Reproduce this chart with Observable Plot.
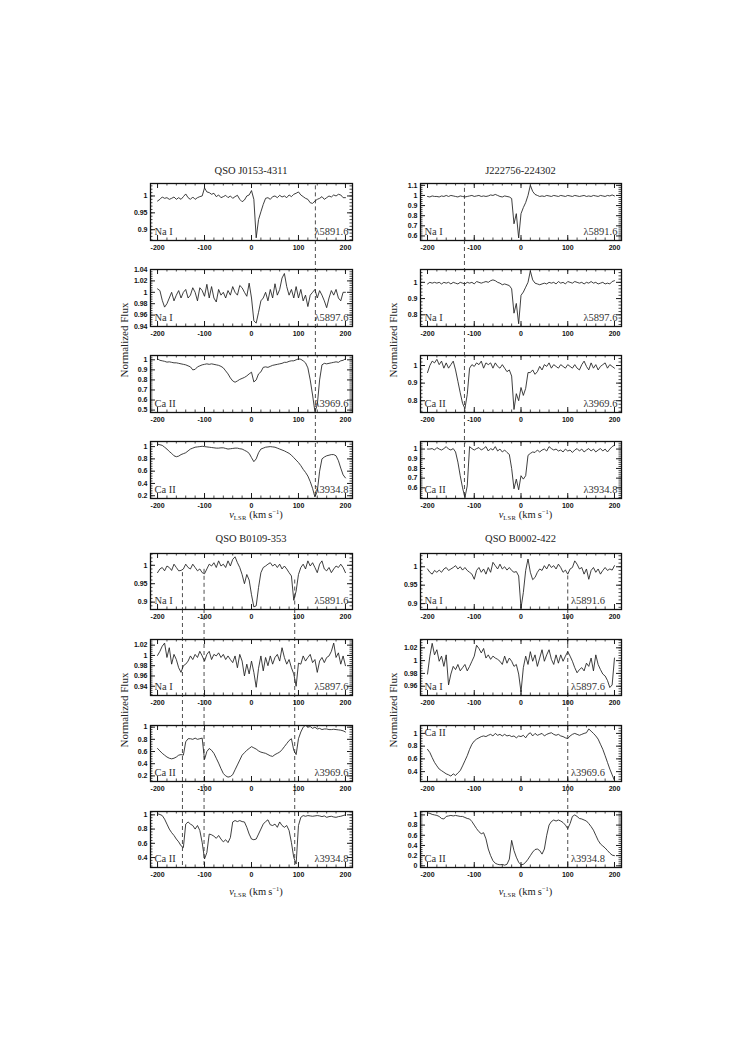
<!DOCTYPE html>
<html><head><meta charset="utf-8">
<script src="https://cdn.jsdelivr.net/npm/d3@7"></script>
<script src="https://cdn.jsdelivr.net/npm/@observablehq/plot@0.6"></script>
<style>
body{margin:0;background:#fff;}
#page{position:relative;width:747px;height:1056px;background:#fff;overflow:hidden;font-family:"Liberation Serif","DejaVu Serif",serif;color:#222;}
.abs{position:absolute;}
.ctr{transform:translate(-50%,-50%);white-space:nowrap;}
.title{font-size:10.5px;}
.xlab{font-size:10.5px;}
.xlab sub{font-size:6.5px;vertical-align:-2px;letter-spacing:0.3px;}
.xlab sup{font-size:6.5px;vertical-align:4px;}
.ylab{font-size:11px;transform:translate(-50%,-50%) rotate(-90deg);white-space:nowrap;}
svg{overflow:visible;}
</style>
</head><body><div id="page"></div>
<script>
// ---------------- DATA ----------------
const vel = [-200,-195,-190,-185,-180,-175,-170,-165,-160,-155,
 -150,-145,-140,-135,-130,-125,-120,-115,-110,-105,
 -100,-95,-90,-85,-80,-75,-70,-65,-60,-55,
 -50,-45,-40,-35,-30,-25,-20,-15,-10,-5,
 0,5,10,15,20,25,30,35,40,45,
 50,55,60,65,70,75,80,85,90,95,
 100,105,110,115,120,125,130,135,140,145,
 150,155,160,165,170,175,180,185,190,195,200];

const velTicks = [-200,-100,0,100,200];
const targets = ["QSO J0153-4311","J222756-224302","QSO B0109-353","QSO B0002-422"];
const ions = ["Na I","Na I","Ca II","Ca II"];
const transitions = ["λ5891.6","λ5897.6","λ3969.6","λ3934.8"];

// dashed component velocities (km/s) and the flux where each starts in the top panel
const compVel = [[136],[-121],[-147,-101,92],[100]];
const compStart = [[1.03],[1.07],[0.98,0.989,0.96],[0.975]];

// QSO J0153-4311
const j0153_na5891 = [0.985,0.990,0.997,0.993,0.995,0.990,0.993,0.997,0.990,0.995,
 0.990,0.998,1.006,0.995,0.990,0.997,0.990,0.995,0.998,1.000,
 1.024,1.012,1.010,1.005,1.008,0.998,1.003,0.995,0.998,1.002,
 0.995,1.000,0.993,0.998,1.002,0.990,0.983,0.988,1.000,1.003,
 1.016,0.990,0.876,0.930,0.953,0.975,0.993,0.995,0.990,0.998,
 1.000,0.995,1.002,0.997,1.000,0.995,1.003,0.998,1.005,1.008,
 1.012,1.003,0.998,0.993,0.990,0.980,0.978,0.985,0.990,0.993,
 0.998,0.990,0.995,1.000,0.997,1.003,1.000,1.005,1.003,0.995,0.995];
const j0153_na5897 = [1.006,1.003,0.986,0.974,0.980,0.990,1.000,0.985,0.995,1.003,
 0.990,1.000,1.005,0.990,0.995,1.008,1.000,0.985,1.008,1.003,
 0.993,1.014,0.990,1.010,0.990,0.983,1.005,0.995,1.000,0.990,
 1.003,0.995,1.010,1.000,0.995,1.012,1.008,1.000,0.993,1.016,
 0.990,0.950,0.946,0.965,0.985,0.990,1.000,0.985,1.005,0.990,
 1.015,0.995,1.005,1.025,1.033,1.010,0.995,1.005,0.990,1.010,
 0.990,1.005,0.985,0.995,0.975,0.995,1.000,1.005,0.990,1.003,
 0.995,0.985,0.973,0.990,1.003,0.995,1.005,0.990,0.985,1.000,1.000];
const j0153_ca3969 = [1.010,0.995,0.990,0.985,0.977,0.980,0.975,0.970,0.970,0.965,
 0.960,0.955,0.950,0.940,0.930,0.900,0.905,0.930,0.940,0.950,
 0.955,0.960,0.955,0.960,0.955,0.950,0.945,0.935,0.920,0.890,
 0.860,0.820,0.790,0.777,0.790,0.805,0.815,0.825,0.840,0.860,
 0.877,0.780,0.800,0.860,0.880,0.925,0.930,0.925,0.935,0.945,
 0.950,0.955,0.960,0.965,0.975,0.975,0.985,0.990,0.990,1.000,
 1.010,1.005,0.990,0.970,0.920,0.800,0.650,0.485,0.550,0.800,
 0.950,0.965,0.960,0.965,0.970,0.975,0.980,0.975,0.990,0.995,1.010];
const j0153_ca3934 = [1.040,1.030,1.020,0.990,0.960,0.920,0.890,0.850,0.835,0.845,
 0.870,0.885,0.900,0.930,0.960,0.975,0.990,0.995,1.000,1.005,
 1.000,0.995,0.990,0.985,0.980,0.975,0.975,0.980,0.980,0.970,
 0.960,0.965,0.970,0.975,0.975,0.965,0.960,0.940,0.920,0.890,
 0.820,0.755,0.800,0.900,0.960,0.975,0.990,0.995,1.000,0.995,
 0.990,0.975,0.960,0.945,0.930,0.910,0.890,0.860,0.820,0.780,
 0.740,0.690,0.630,0.580,0.520,0.430,0.320,0.180,0.270,0.600,
 0.800,0.830,0.850,0.860,0.870,0.870,0.850,0.770,0.650,0.540,0.490];

// J222756-224302
const j2227_na5891 = [0.990,0.985,0.995,0.990,0.990,0.985,0.995,0.990,1.000,0.990,
 1.000,0.995,0.990,0.985,0.995,0.990,0.985,0.990,0.995,1.000,
 0.990,0.995,1.000,0.990,0.995,0.990,0.995,1.005,1.000,1.010,
 1.000,0.990,0.985,0.995,0.990,0.985,0.970,0.720,0.820,0.580,
 0.820,0.880,0.930,1.000,1.100,1.040,1.010,1.000,0.990,0.995,
 0.990,1.000,0.995,0.990,1.000,0.995,0.990,1.000,0.995,0.990,
 1.000,0.995,0.990,1.000,0.995,0.990,0.995,1.000,0.990,0.995,
 0.990,1.000,0.995,0.990,1.000,0.995,0.990,1.000,0.995,1.005,0.995];
const j2227_na5897 = [0.990,1.000,0.995,1.000,0.995,1.000,0.990,1.000,0.995,1.000,
 0.990,1.000,0.995,0.990,1.000,0.995,0.990,1.000,0.995,1.000,
 0.990,1.005,1.000,0.995,1.000,1.005,1.000,1.010,1.015,1.010,
 1.000,0.995,0.985,0.990,0.985,0.980,0.960,0.810,0.870,0.745,
 0.920,0.940,0.970,1.000,1.070,1.015,0.995,0.990,0.985,0.990,
 0.995,0.990,1.000,0.995,1.000,0.990,1.005,0.995,1.000,0.990,
 1.005,1.000,0.995,1.005,1.000,0.995,1.000,0.990,1.000,0.995,
 1.005,0.995,1.000,0.990,0.995,1.000,0.990,0.995,0.990,1.005,1.010];
const j2227_ca3969 = [0.960,1.000,1.025,1.015,1.035,1.005,1.025,0.985,1.015,0.985,
 1.005,1.025,0.975,0.910,0.845,0.785,0.755,0.835,0.985,1.005,
 0.995,1.015,1.005,1.025,0.985,1.015,1.005,1.015,0.985,1.015,
 0.995,0.985,1.005,0.985,0.965,0.975,0.940,0.750,0.840,0.800,
 0.875,0.830,0.870,0.960,0.960,0.975,0.950,0.965,0.995,0.975,
 1.005,0.995,1.015,0.985,1.005,0.995,0.985,1.005,0.995,0.985,
 1.005,0.995,0.985,1.005,0.985,0.975,1.005,1.025,0.995,0.975,
 1.015,0.985,1.005,0.975,0.995,1.005,1.015,0.985,1.005,0.995,0.985];
const j2227_ca3934 = [1.000,1.000,1.005,0.990,1.015,1.000,0.990,1.005,1.025,1.000,
 0.990,1.005,0.970,0.865,0.725,0.600,0.500,0.620,1.025,1.005,
 0.990,1.005,1.015,0.990,1.005,1.025,0.980,1.005,0.990,1.025,
 0.980,1.000,0.970,0.990,0.965,0.945,0.800,0.590,0.690,0.580,
 0.725,0.690,0.725,0.935,0.955,0.970,0.965,0.990,0.970,0.990,
 1.000,0.980,1.025,1.005,0.990,1.000,0.980,0.990,0.970,1.000,
 0.980,0.990,0.965,0.990,1.005,0.980,1.000,0.970,0.990,1.005,
 0.980,1.000,0.970,0.990,1.005,0.980,1.000,0.970,1.000,1.025,1.040];

// QSO B0109-353
const b0109_na5891 = [0.980,0.990,0.994,0.985,0.998,0.994,0.986,1.003,0.994,0.985,
 0.986,0.990,1.003,0.994,0.990,1.003,0.994,0.985,0.990,0.980,
 0.977,0.990,1.003,0.998,1.007,0.994,1.012,0.998,1.003,0.994,
 1.012,0.998,1.016,1.023,1.007,0.994,0.975,0.950,0.975,0.960,
 0.920,0.887,0.890,0.940,0.980,0.994,0.998,1.003,1.007,0.998,
 1.003,0.994,1.003,0.990,0.998,0.990,0.980,0.971,0.905,0.930,
 0.975,0.994,1.003,0.990,1.012,0.998,1.007,0.994,0.980,1.003,
 1.012,0.990,0.985,0.994,0.980,0.990,0.998,0.994,1.003,0.994,0.980];
const b0109_na5897 = [1.000,1.008,1.018,1.024,0.996,1.015,0.983,1.002,0.992,0.976,
 0.967,0.980,0.983,0.989,0.999,0.992,1.002,0.996,1.008,0.999,
 0.989,1.002,1.008,0.992,1.002,0.999,1.005,0.996,1.002,0.992,
 0.999,0.992,0.986,0.999,0.976,1.002,0.989,0.960,0.983,0.964,
 0.989,0.967,0.938,0.975,0.999,0.970,0.996,0.980,0.999,0.983,
 0.996,1.002,0.989,1.015,0.996,0.983,0.992,0.976,0.964,0.940,
 0.985,0.983,0.999,0.989,0.996,1.002,0.986,0.992,0.967,0.989,
 0.996,0.986,0.996,0.999,1.008,1.024,0.996,1.005,0.983,0.999,0.980];
const b0109_ca3969 = [0.650,0.610,0.570,0.540,0.510,0.490,0.480,0.490,0.510,0.540,
 0.550,0.540,0.760,0.810,0.810,0.800,0.820,0.800,0.810,0.820,
 0.470,0.600,0.650,0.620,0.570,0.490,0.410,0.320,0.240,0.200,
 0.180,0.190,0.220,0.300,0.380,0.460,0.540,0.580,0.620,0.650,
 0.680,0.660,0.640,0.610,0.590,0.580,0.570,0.550,0.530,0.520,
 0.550,0.570,0.590,0.630,0.680,0.730,0.780,0.810,0.620,0.550,
 0.810,0.920,1.000,1.030,1.000,1.010,0.980,1.000,0.970,0.980,
 0.960,0.970,0.970,0.960,0.960,0.965,0.960,0.955,0.950,0.940,0.920];
const b0109_ca3934 = [1.015,1.005,0.990,0.940,0.870,0.800,0.750,0.710,0.660,0.620,
 0.565,0.540,0.870,0.900,0.870,0.850,0.800,0.850,0.780,0.610,
 0.380,0.470,0.730,0.720,0.700,0.670,0.710,0.660,0.620,0.650,
 0.610,0.680,0.900,0.920,0.905,0.920,0.905,0.900,0.825,0.730,
 0.660,0.650,0.660,0.730,0.800,0.870,0.905,0.930,0.860,0.850,
 0.870,0.825,0.900,0.850,0.825,0.850,0.780,0.610,0.400,0.310,
 0.850,0.965,0.990,0.980,0.990,0.985,0.980,0.985,0.990,0.985,
 0.975,0.985,0.965,0.975,0.980,0.970,0.965,0.975,0.980,0.990,1.000];

// QSO B0002-422
const b0002_na5891 = [0.994,0.985,0.980,0.990,0.985,0.991,0.985,0.994,0.998,0.990,
 0.994,0.998,1.003,0.994,1.000,0.991,0.998,0.990,0.985,0.980,
 0.966,0.990,0.998,0.985,0.994,0.980,0.998,0.985,1.012,1.003,
 0.994,1.007,0.994,1.000,0.991,0.998,0.990,0.985,0.987,0.975,
 0.888,0.930,0.990,1.021,0.985,0.965,0.971,0.985,0.994,0.990,
 1.003,0.994,1.007,0.998,1.003,0.994,1.007,0.998,0.985,0.991,
 0.980,0.994,0.998,1.016,1.007,0.994,0.998,0.980,0.994,0.966,
 0.990,0.998,0.985,0.994,0.980,0.990,0.998,0.990,0.994,0.991,1.003];
const b0002_na5897 = [0.979,1.007,1.027,1.009,1.017,0.999,1.007,0.991,1.009,0.962,
 0.979,0.991,0.986,0.994,0.984,0.989,0.994,0.984,0.991,0.999,
 1.007,1.024,1.019,1.012,1.019,1.004,1.009,1.002,1.007,1.004,
 1.002,0.999,0.994,1.007,0.996,1.004,0.999,0.991,0.994,0.979,
 0.951,0.989,1.007,0.994,1.014,0.999,1.009,0.991,1.004,1.017,
 0.999,1.009,1.017,1.002,0.994,1.009,0.996,1.009,0.999,1.007,
 1.014,1.007,0.999,0.989,0.981,0.986,0.989,0.984,0.996,0.991,
 1.004,0.984,1.009,0.994,0.986,0.979,0.976,0.969,0.958,0.962,1.004];
const b0002_ca3969 = [0.750,0.700,0.620,0.545,0.490,0.440,0.415,0.390,0.365,0.350,
 0.330,0.365,0.340,0.380,0.415,0.490,0.570,0.650,0.750,0.830,
 0.880,0.910,0.930,0.950,0.960,0.950,0.970,0.985,0.960,1.000,
 0.970,0.985,0.960,0.985,0.960,0.970,0.950,0.960,0.930,0.960,
 0.950,0.970,0.930,0.985,1.010,0.960,1.000,0.970,0.985,1.000,
 0.960,0.985,1.000,1.010,0.985,0.970,0.985,0.960,0.950,0.930,
 0.920,0.960,0.985,1.000,0.985,0.970,0.985,1.000,1.010,1.070,
 1.035,1.000,0.960,0.910,0.830,0.750,0.650,0.545,0.440,0.350,0.260];
const b0002_ca3934 = [1.040,1.030,1.010,1.000,0.990,0.970,0.930,0.920,0.970,0.980,
 0.990,0.980,0.990,0.980,0.970,0.970,0.950,0.930,0.920,0.870,
 0.800,0.730,0.670,0.630,0.650,0.530,0.330,0.200,0.100,0.050,
 0.030,0.020,0.027,0.013,0.030,0.130,0.500,0.300,0.170,0.070,
 0.020,0.030,0.070,0.130,0.200,0.270,0.320,0.330,0.300,0.230,
 0.330,0.600,0.800,0.870,0.900,0.880,0.900,0.880,0.850,0.800,
 0.730,0.830,0.970,1.000,0.970,0.930,0.920,0.900,0.880,0.830,
 0.770,0.700,0.600,0.500,0.430,0.390,0.350,0.300,0.250,0.210,0.200];

const spectra = [
  [j0153_na5891, j0153_na5897, j0153_ca3969, j0153_ca3934],
  [j2227_na5891, j2227_na5897, j2227_ca3969, j2227_ca3934],
  [b0109_na5891, b0109_na5897, b0109_ca3969, b0109_ca3934],
  [b0002_na5891, b0002_na5897, b0002_ca3969, b0002_ca3934]
];

// y tick labels per panel
const fluxTicks = [
  [[0.9,0.95,1],[0.94,0.96,0.98,1,1.02,1.04],[0.5,0.6,0.7,0.8,0.9,1],[0.2,0.4,0.6,0.8,1]],
  [[0.6,0.7,0.8,0.9,1,1.1],[0.8,0.9,1],[0.8,0.9,1],[0.6,0.7,0.8,0.9,1]],
  [[0.9,0.95,1],[0.94,0.96,0.98,1,1.02],[0.2,0.4,0.6,0.8,1],[0.4,0.6,0.8,1]],
  [[0.9,0.95,1],[0.96,0.98,1,1.02],[0.4,0.6,0.8,1],[0,0.2,0.4,0.6,0.8,1]]
];
// y scale domains per panel
const fluxDomains = [
  [[0.868,1.037],[0.94,1.04],[0.476,1.043],[0.155,1.083]],
  [[0.555,1.118],[0.728,1.079],[0.733,1.057],[0.49,1.078]],
  [[0.88,1.032],[0.922,1.031],[0.108,1.027],[0.26,1.047]],
  [[0.884,1.036],[0.9455,1.033],[0.245,1.124],[-0.033,1.067]]
];

// ---------------- LAYOUT ----------------
const frameX = [150, 420], frameW = [202, 201];
const bandTops = [[182.5, 268.5, 354.5, 440.5], [553, 638.5, 724.5, 811]];
const frameH = [57, 56];
const mL = 32, mR = 6, mT = 4, mB = 16;
const xDomain = [-215, 215];
const page = document.getElementById("page");
const ink = "#1e1e1e";
const tickFont = {fontSize: 7, fontWeight: "bold", fontFamily: "Liberation Sans, Arial, sans-serif", fill: "#111"};
const serif = "Liberation Serif, DejaVu Serif, serif";

function place(el, left, top) {
  el.style.position = "absolute";
  el.style.left = left + "px";
  el.style.top = top + "px";
  page.appendChild(el);
}
function addHTML(cls, html, x, y) {
  const d = document.createElement("div");
  d.className = "abs " + cls;
  d.innerHTML = html;
  d.style.left = x + "px"; d.style.top = y + "px";
  page.appendChild(d);
}

for (let g = 0; g < 4; g++) {
  const col = g % 2, band = Math.floor(g / 2);
  const fx = frameX[col], fw = frameW[col], fh = frameH[band];
  const W = mL + fw + mR, H = mT + fh + mB;
  for (let r = 0; r < 4; r++) {
    const fy = bandTops[band][r];
    const yd = fluxDomains[g][r];
    const yt = fluxTicks[g][r];
    const data = vel.map((v, i) => ({v, f: spectra[g][r][i]}));
    const step = yt[1] - yt[0];
    const yMinor = [];
    for (let k = -20; k < yt.length * 5 + 20; k++) {
      const t = yt[0] + k * step / 5;
      if (t >= yd[0] - 1e-9 && t <= yd[1] + 1e-9) yMinor.push(t);
    }
    const xMinor = d3.range(-200, 201, 20);
    const marks = [
      Plot.line(data, {x: "v", y: "f", curve: "linear", stroke: ink, strokeWidth: 0.85, clip: true})
    ];
    if (r === 0) {
      const comps = compVel[g].map((v, i) => ({v, s: compStart[g][i]}));
      marks.push(Plot.ruleX(comps, {x: "v", y1: "s", y2: () => yd[0], stroke: "#222", strokeWidth: 0.8, strokeDasharray: "4,3"}));
    }
    marks.push(
      Plot.tickX(xMinor, {x: d => d, insetTop: fh - 2.5, stroke: ink, strokeWidth: 0.8}),
      Plot.tickX(xMinor, {x: d => d, insetBottom: fh - 2.5, stroke: ink, strokeWidth: 0.8}),
      Plot.tickX(velTicks, {x: d => d, insetTop: fh - 5, stroke: ink, strokeWidth: 1}),
      Plot.tickX(velTicks, {x: d => d, insetBottom: fh - 5, stroke: ink, strokeWidth: 1}),
      Plot.tickY(yMinor, {y: d => d, insetRight: fw - 2.5, stroke: ink, strokeWidth: 0.8}),
      Plot.tickY(yMinor, {y: d => d, insetLeft: fw - 2.5, stroke: ink, strokeWidth: 0.8}),
      Plot.tickY(yt, {y: d => d, insetRight: fw - 5, stroke: ink, strokeWidth: 1}),
      Plot.tickY(yt, {y: d => d, insetLeft: fw - 5, stroke: ink, strokeWidth: 1}),
      Plot.frame({stroke: "#111", strokeWidth: 1.3}),
      Plot.text(velTicks, {x: d => d, frameAnchor: "bottom", dy: 9, text: d => String(d), ...tickFont}),
      Plot.text(yt, {y: d => d, frameAnchor: "left", dx: -3, textAnchor: "end", text: d => String(d), ...tickFont})
    );
    // ion label
    const ionTop = (g === 3 && r === 2);
    marks.push(Plot.text([ions[r]], {
      frameAnchor: ionTop ? "top-left" : "bottom-left", textAnchor: "start",
      lineAnchor: ionTop ? "top" : "bottom", dx: 4, dy: ionTop ? 3 : -6,
      fontFamily: serif, fontSize: 10.5, fill: "#333"
    }));
    // transition label
    if (g === 3) {
      marks.push(Plot.text([transitions[r]], {x: () => 107, frameAnchor: "bottom", textAnchor: "start",
        lineAnchor: "bottom", dy: -6, fontFamily: serif, fontSize: 10.5, fill: "#333"}));
    } else {
      marks.push(Plot.text([transitions[r]], {frameAnchor: "bottom-right", textAnchor: "end",
        lineAnchor: "bottom", dx: -4, dy: -6, fontFamily: serif, fontSize: 10.5, fill: "#333"}));
    }
    const svg = Plot.plot({
      width: W, height: H, marginLeft: mL, marginRight: mR, marginTop: mT, marginBottom: mB,
      x: {domain: xDomain, axis: null}, y: {domain: yd, axis: null},
      style: {background: "transparent", overflow: "visible"},
      marks
    });
    place(svg, fx - mL, fy - mT);
  }
  // dashed lines through the gaps and lower panels
  const firstBottom = bandTops[band][0] + fh;
  const lastBottom = bandTops[band][3] + fh;
  const ov = Plot.plot({
    width: W, height: lastBottom - firstBottom, marginLeft: mL, marginRight: mR, marginTop: 0, marginBottom: 0,
    x: {domain: xDomain, axis: null},
    style: {background: "transparent", overflow: "visible"},
    marks: [Plot.ruleX(compVel[g], {x: d => d, stroke: "#222", strokeWidth: 0.8, strokeDasharray: "4,3"})]
  });
  ov.style.pointerEvents = "none";
  place(ov, fx - mL, firstBottom);

  // texts
  const cx = fx + fw / 2;
  addHTML("ctr title", targets[g], cx, band === 0 ? 170 : 538);
  addHTML("ctr xlab", '<i>v</i><sub>LSR</sub>&nbsp;(km&thinsp;s<sup>−1</sup>)', cx + 5, band === 0 ? 514 : 891);
  addHTML("ylab", "Normalized Flux", col === 0 ? 124 : 393, band === 0 ? 340 : 710);
}
</script></body></html>
